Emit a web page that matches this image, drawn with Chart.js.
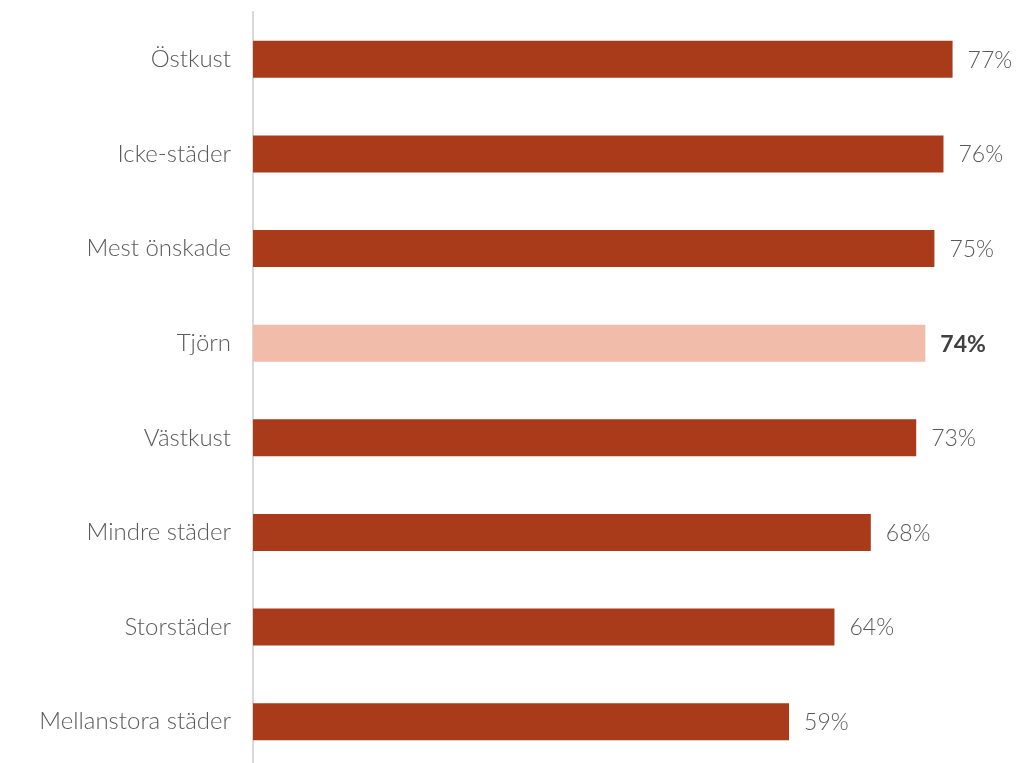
<!DOCTYPE html>
<html>
<head>
<meta charset="utf-8">
<script src="https://cdn.jsdelivr.net/npm/chart.js@4/dist/chart.umd.min.js"></script>
<style>
  html, body { margin: 0; padding: 0; background: #fff; overflow: hidden; }
  #wrap { width: 1017px; height: 770px; }
</style>
</head>
<body>
<div id="wrap"><canvas id="c" width="1017" height="770"></canvas></div>
<script>
const categories = ['Östkust', 'Icke-städer', 'Mest önskade', 'Tjörn', 'Västkust', 'Mindre städer', 'Storstäder', 'Mellanstora städer'];
const shares = [77, 76, 75, 74, 73, 68, 64, 59];
const highlighted = 'Tjörn';

const barColor = '#A93A1A';
const highlightColor = '#F2BCAA';
const textColor = '#595959';
const fontFamily = 'Lato, "Open Sans", sans-serif';

// Percent labels to the right of each bar
const valueLabels = {
  id: 'valueLabels',
  afterDatasetsDraw(chart) {
    const ctx = chart.ctx;
    const meta = chart.getDatasetMeta(0);
    ctx.save();
    ctx.textBaseline = 'middle';
    ctx.textAlign = 'left';
    meta.data.forEach((bar, i) => {
      const bold = categories[i] === highlighted;
      ctx.font = (bold ? 'bold ' : '300 ') + '23px ' + fontFamily;
      ctx.fillStyle = bold ? '#404040' : textColor;
      ctx.fillText(shares[i] + '%', bar.x + 15, bar.y + 1);
    });
    ctx.restore();
  }
};

new Chart(document.getElementById('c'), {
  type: 'bar',
  data: {
    labels: categories,
    datasets: [{
      data: shares,
      backgroundColor: categories.map(c => c === highlighted ? highlightColor : barColor),
      barPercentage: 0.39,
      categoryPercentage: 1.0
    }]
  },
  options: {
    indexAxis: 'y',
    responsive: false,
    animation: false,
    layout: { padding: { top: 12, right: 19, bottom: 1, left: 0 } },
    plugins: { legend: { display: false }, tooltip: { enabled: false } },
    scales: {
      x: { min: 0, max: 82, display: false },
      y: {
        grid: { display: false, drawTicks: false },
        border: { display: true, color: '#D9D9D9', width: 2 },
        ticks: { color: textColor, font: { family: fontFamily, size: 24, weight: '300' }, padding: 22 },
        afterFit(scale) {
          scale.width = 253;
          scale.paddingTop = 0;
          scale.paddingBottom = 0;
        }
      }
    }
  },
  plugins: [valueLabels]
});
</script>
</body>
</html>
